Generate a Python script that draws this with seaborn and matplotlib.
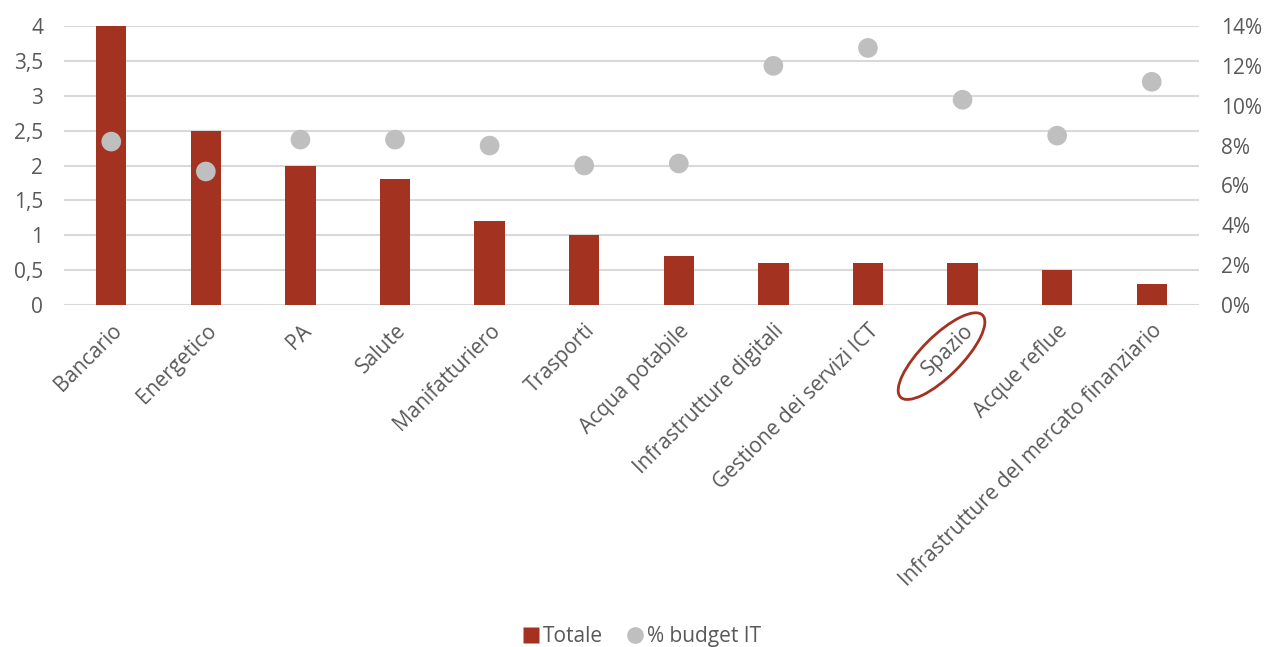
import matplotlib
matplotlib.use("Agg")
import matplotlib.pyplot as plt
from matplotlib.patches import Ellipse
from matplotlib.lines import Line2D
from matplotlib.ticker import FuncFormatter, MultipleLocator
import seaborn as sns
import pandas as pd

categories = [
    "Bancario", "Energetico", "PA", "Salute", "Manifatturiero", "Trasporti",
    "Acqua potabile", "Infrastrutture digitali", "Gestione dei servizi ICT",
    "Spazio", "Acque reflue", "Infrastrutture del mercato finanziario",
]
totale = [4.0, 2.5, 2.0, 1.8, 1.2, 1.0, 0.7, 0.6, 0.6, 0.6, 0.5, 0.3]
budget_it = [0.082, 0.067, 0.083, 0.083, 0.080, 0.070, 0.071, 0.120, 0.129, 0.103, 0.085, 0.112]
highlighted = "Spazio"

BAR_COLOR = "#A33220"
DOT_COLOR = "#BFBFBF"
TEXT_COLOR = "#595959"
GRID_COLOR = "#D9D9D9"
FONT_SIZE = 15

sns.set_theme(style="white")
plt.rcParams["font.family"] = ["Open Sans", "DejaVu Sans"]

df = pd.DataFrame({"settore": categories, "totale": totale, "budget": budget_it})

fig = plt.figure(figsize=(12.64, 6.47), dpi=100)
ax = fig.add_axes([0.0506, 0.5286, 0.898, 0.4312])

sns.barplot(data=df, x="settore", y="totale", color=BAR_COLOR, saturation=1,
            width=0.32, linewidth=0, ax=ax, zorder=2)

ax2 = ax.twinx()
sns.scatterplot(data=df, x="settore", y="budget", color=DOT_COLOR, s=200,
                edgecolor="none", ax=ax2, zorder=3)

ax.set_ylim(0, 4)
ax2.set_ylim(0, 0.14)
ax.set_xlim(-0.5, len(categories) - 0.5)
ax.yaxis.set_major_locator(MultipleLocator(0.5))
ax2.yaxis.set_major_locator(MultipleLocator(0.02))
ax.yaxis.set_major_formatter(FuncFormatter(lambda v, _: f"{v:g}".replace(".", ",")))
ax2.yaxis.set_major_formatter(FuncFormatter(lambda v, _: f"{round(v * 100):d}%"))

ax.grid(axis="y", color=GRID_COLOR, linewidth=1.5, zorder=0)
ax.set_axisbelow(True)
ax2.grid(False)
for a in (ax, ax2):
    for s in a.spines.values():
        s.set_visible(False)
    a.set_xlabel("")
    a.set_ylabel("")
    a.tick_params(length=0, labelsize=FONT_SIZE, labelcolor=TEXT_COLOR)
ax.tick_params(axis="y", pad=15)
ax2.tick_params(axis="y", pad=16)
ax.tick_params(axis="x", pad=11)

ax.set_xticks(range(len(categories)))
ax.set_xticklabels(categories, rotation=45, ha="right", rotation_mode="anchor")

# Legend below the chart
handles = [
    Line2D([0], [0], marker="s", linestyle="none", markersize=11,
           markerfacecolor=BAR_COLOR, markeredgecolor="none", label="Totale"),
    Line2D([0], [0], marker="o", linestyle="none", markersize=12,
           markerfacecolor=DOT_COLOR, markeredgecolor="none", label="% budget IT"),
]
fig.legend(handles=handles, loc="center", bbox_to_anchor=(0.507, 0.0155), ncol=2,
           frameon=False, fontsize=FONT_SIZE, labelcolor=TEXT_COLOR, handletextpad=0.1,
           columnspacing=1.0, handlelength=1.0)

# Ring around the highlighted sector label, nudged slightly down-left
fig.canvas.draw()
renderer = fig.canvas.get_renderer()
for lbl in ax.get_xticklabels():
    if lbl.get_text() == highlighted:
        bb = lbl.get_window_extent(renderer=renderer)
        cx, cy = (bb.x0 + bb.x1) / 2 - 6, (bb.y0 + bb.y1) / 2 - 6
        span = bb.width + bb.height
        ell = Ellipse((cx, cy), width=span * 0.97, height=40, angle=45,
                      transform=None, fill=False, edgecolor=BAR_COLOR, linewidth=2)
        fig.add_artist(ell)

fig.savefig("out.png", dpi=100, facecolor="white")
